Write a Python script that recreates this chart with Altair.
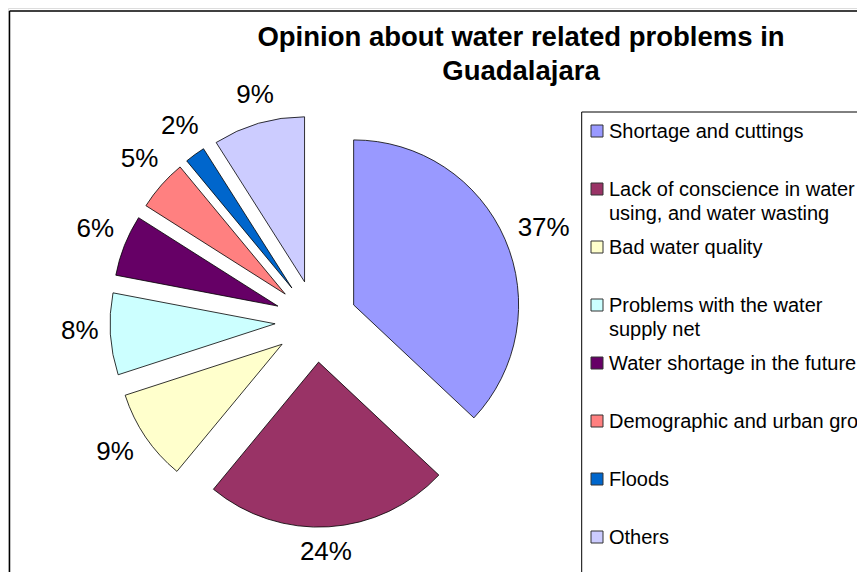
import altair as alt
import pandas as pd

categories = [
    "Shortage and cuttings",
    "Lack of conscience in water using, and water wasting",
    "Bad water quality",
    "Problems with the water supply net",
    "Water shortage in the future",
    "Demographic and urban growth",
    "Floods",
    "Others",
]
legend_labels = [
    "Shortage and cuttings",
    "Lack of conscience in water\nusing, and water wasting",
    "Bad water quality",
    "Problems with the water\nsupply net",
    "Water shortage in the future",
    "Demographic and urban growth",
    "Floods",
    "Others",
]
values = [37, 24, 9, 8, 6, 5, 2, 9]
colors = ["#9999FF", "#993366", "#FFFFCC", "#CCFFFF", "#660066", "#FF8080", "#0066CC", "#CCCCFF"]
title_lines = ["Opinion about water related problems in", "Guadalajara"]

FONT = "Liberation Sans"
W, H = 849, 564
CX, CY = 308, 313.2        # pie centre (px)
EXPLODE = 41               # explosion distance (px)
R = 165                    # pie radius (px)
LBL = 26                   # label font size

df = pd.DataFrame({
    "category": categories,
    "label": legend_labels,
    "pct": values,
    "idx": list(range(len(categories))),
})

color = alt.Color("category:N", scale=alt.Scale(domain=categories, range=colors), legend=None)

base = (
    alt.Chart(df)
    .transform_window(cum="sum(pct)", sort=[alt.SortField("idx")], frame=[None, 0])
    .transform_calculate(
        t1="datum.cum / 100 * 2 * PI",
        t0="(datum.cum - datum.pct) / 100 * 2 * PI",
    )
    .transform_calculate(
        sx="sin((datum.t0 + datum.t1) / 2)",
        sy="cos((datum.t0 + datum.t1) / 2)",
        lsx="sin((datum.t0 + datum.t1) / 2 + 0.02)",
        lsy="cos((datum.t0 + datum.t1) / 2 + 0.02)",
        txt="datum.pct + '%'",
    )
    # label distance: just outside the slice, pushed out by half the text box
    .transform_calculate(
        tw=f"{LBL} * (0.556 * length(toString(datum.pct)) + 0.889)",
    )
    .transform_calculate(
        lr=f"{R + 52} + abs(datum.lsx) * datum.tw / 2 + abs(datum.lsy) * {LBL / 2}",
    )
    .transform_calculate(
        lx="datum.lr * datum.lsx",
        ly="datum.lr * datum.lsy",
    )
)

arcs = base.mark_arc(radius=R, stroke="black", strokeWidth=0.8).encode(
    theta=alt.Theta("t0:Q", scale=None),
    theta2="t1:Q",
    x=alt.X("sx:Q", scale=alt.Scale(domain=[-1, 1], range=[CX - EXPLODE, CX + EXPLODE], nice=False, zero=False), axis=None),
    y=alt.Y("sy:Q", scale=alt.Scale(domain=[-1, 1], range=[CY + EXPLODE, CY - EXPLODE], nice=False, zero=False), axis=None),
    color=color,
)

labels = base.mark_text(font=FONT, fontSize=LBL, color="black", baseline="middle", align="center").encode(
    x=alt.X("lx:Q", scale=alt.Scale(domain=[-300, 300], range=[CX - 300, CX + 300], nice=False, zero=False), axis=None),
    y=alt.Y("ly:Q", scale=alt.Scale(domain=[-300, 300], range=[CY + 300, CY - 300], nice=False, zero=False), axis=None),
    text="txt:N",
)

one = alt.Chart(df).transform_filter("datum.idx == 0")

border_left = one.mark_rule(color="black", strokeWidth=1.5).encode(
    x=alt.value(1.5), y=alt.value(3), y2=alt.value(H)
)
border_top = one.mark_rule(color="black", strokeWidth=1.5).encode(
    x=alt.value(1.5), x2=alt.value(W), y=alt.value(3)
)
box_left = one.mark_rule(color="black", strokeWidth=1).encode(
    x=alt.value(573.7), y=alt.value(104), y2=alt.value(H)
)
box_top = one.mark_rule(color="black", strokeWidth=1).encode(
    x=alt.value(573.7), x2=alt.value(W), y=alt.value(104)
)

leg_y = alt.Y("idx:Q", scale=alt.Scale(domain=[0, 7], range=[123, 529], nice=False, zero=False), axis=None)

leg_sym = alt.Chart(df).mark_square(size=144, opacity=1, stroke="#333333", strokeWidth=1).encode(
    x=alt.value(589), y=leg_y, color=color
)

leg_txt = alt.Chart(df).mark_text(
    font=FONT, fontSize=20, align="left", baseline="alphabetic", dy=7, lineBreak="\n", lineHeight=23.5, color="black"
).encode(x=alt.value(601), y=leg_y, text="label:N")

chart = (
    alt.layer(border_left, border_top, box_left, box_top, arcs, labels, leg_sym, leg_txt)
    .resolve_scale(x="independent", y="independent")
    .properties(
        width=W,
        height=H,
        padding=0,
        autosize=alt.AutoSizeParams(type="none"),
        title=alt.TitleParams(
            text=title_lines,
            font=FONT,
            fontSize=27.5,
            fontWeight="bold",
            color="black",
            anchor="middle",
            frame="group",
            dx=513 - W / 2,
            baseline="alphabetic",
            lineHeight=34,
            offset=-99.5,
        ),
    )
    .configure_view(stroke=None)
    .configure(background="white")
)

chart.save("out.html", embed_options={"renderer": "svg", "actions": False})
